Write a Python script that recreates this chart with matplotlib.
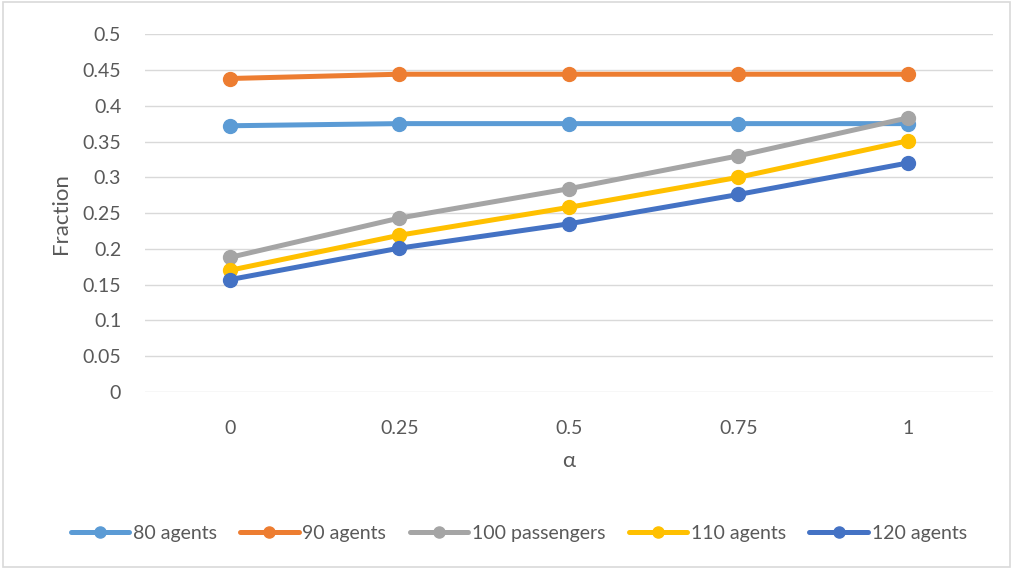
import matplotlib.pyplot as plt
from matplotlib.patches import Rectangle

alpha = ["0", "0.25", "0.5", "0.75", "1"]
agents_80 = [0.372, 0.375, 0.375, 0.375, 0.375]
agents_90 = [0.438, 0.444, 0.444, 0.444, 0.444]
passengers_100 = [0.188, 0.243, 0.284, 0.330, 0.383]
agents_110 = [0.170, 0.219, 0.258, 0.300, 0.351]
agents_120 = [0.157, 0.201, 0.235, 0.276, 0.320]

series = [
    ("80 agents", agents_80, "#5B9BD5"),
    ("90 agents", agents_90, "#ED7D31"),
    ("100 passengers", passengers_100, "#A5A5A5"),
    ("110 agents", agents_110, "#FFC000"),
    ("120 agents", agents_120, "#4472C4"),
]

plt.rcParams['font.family'] = ['Lato', 'DejaVu Sans']
txt = "#595959"

fig = plt.figure(figsize=(10.13, 5.69), dpi=100)
ax = fig.add_axes([0.143, 0.311, 0.837, 0.629])

x = list(range(len(alpha)))
for name, vals, col in series:
    ax.plot(x, vals, color=col, lw=3.6, marker='o', ms=10, label=name,
            solid_capstyle='round')

ax.set_xlim(-0.5, len(alpha) - 0.5)
ax.set_ylim(0, 0.5)
ax.set_yticks([i * 0.05 for i in range(11)])
ax.set_yticklabels(["0", "0.05", "0.1", "0.15", "0.2", "0.25", "0.3",
                    "0.35", "0.4", "0.45", "0.5"])
ax.set_xticks(x)
ax.set_xticklabels(alpha)
ax.tick_params(length=0, labelsize=14, colors=txt)
ax.tick_params(axis='y', pad=17)
ax.tick_params(axis='x', pad=20)
ax.grid(axis='y', color='#D9D9D9', lw=1)
ax.set_axisbelow(True)
for s in ax.spines.values():
    s.set_visible(False)

ax.set_ylabel("Fraction", fontsize=16, color=txt, labelpad=8)
ax.set_xlabel("α", fontsize=16, color=txt, labelpad=10)

leg = fig.legend(loc='center', bbox_to_anchor=(0.512, 0.063), ncol=5,
                 frameon=False, fontsize=14, handlelength=3.0,
                 columnspacing=1.2, handletextpad=0.2, markerscale=0.8)
for t in leg.get_texts():
    t.set_color(txt)

fig.patches.append(Rectangle((0.003, 0.004), 0.994, 0.992, transform=fig.transFigure,
                             fill=False, edgecolor='#D9D9D9', lw=1.2))

fig.savefig("out.png", dpi=100, facecolor='white')
